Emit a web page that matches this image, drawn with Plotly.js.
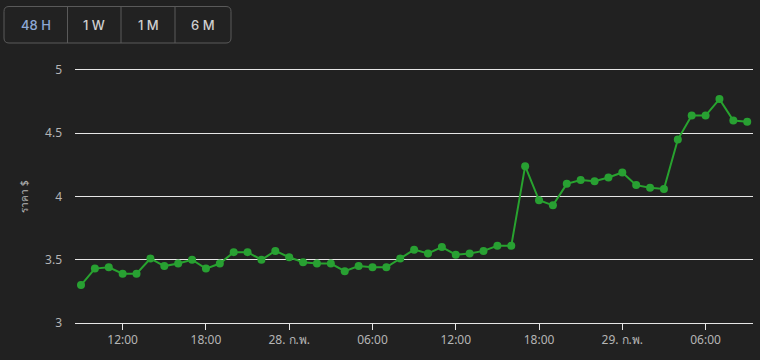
<!DOCTYPE html>
<html>
<head>
<meta charset="utf-8">
<script src="https://cdn.plot.ly/plotly-3.0.1.min.js"></script>
<style>
html,body{margin:0;padding:0;background:#212121;}
#chart{width:760px;height:360px;}
</style>
</head>
<body>
<div id="chart"></div>
<script>
// Hourly timestamps from 27 Feb 09:00 to 29 Feb 09:00 (2024)
const startTime = '2024-02-27T09:00:00';
const pointCount = 49;
const prices = [
  3.30, 3.43, 3.44, 3.39, 3.39, 3.51, 3.45, 3.47, 3.50, 3.43,
  3.47, 3.56, 3.56, 3.50, 3.57, 3.52, 3.48, 3.47, 3.47, 3.41,
  3.45, 3.44, 3.44, 3.51, 3.58, 3.55, 3.60, 3.54, 3.55, 3.57,
  3.61, 3.61, 4.24, 3.97, 3.93, 4.10, 4.13, 4.12, 4.15, 4.19,
  4.09, 4.07, 4.06, 4.45, 4.64, 4.64, 4.77, 4.60, 4.59
];
const tickDates = ['2024-02-27 12:00','2024-02-27 18:00','2024-02-28 00:00','2024-02-28 06:00','2024-02-28 12:00','2024-02-28 18:00','2024-02-29 00:00','2024-02-29 06:00'];
const tickLabels = ['12:00','18:00','28. ก.พ.','06:00','12:00','18:00','29. ก.พ.','06:00'];
const yTicks = [3, 3.5, 4, 4.5, 5];
const yTickLabels = ['3', '3.5', '4', '4.5', '5'];
const buttonLabels = ['48 H', '1 W', '1 M', '6 M'];
const yTitle = 'ราคา $';

// build hourly time axis
const times = [];
const t0 = new Date(startTime + 'Z').getTime();
for (let i = 0; i < pointCount; i++) {
  const d = new Date(t0 + i * 3600000);
  times.push(d.toISOString().slice(0, 19).replace('T', ' '));
}

const W = 760, H = 360;
const ml = 75, mr = 7, mt = 70, mb = 37;
const pw = W - ml - mr, ph = H - mt - mb;
const px = x => (x - ml) / pw;
const py = y => (H - mb - y) / ph;

// button group geometry (pixels)
const bx = [4, 67.5, 121, 175, 231];
const bTop = 6.5, bBot = 43;
const shapes = [];
const r = 5;
const x0 = px(bx[0]), x1 = px(bx[4]), y0 = py(bBot), y1 = py(bTop);
const rx = r / pw, ry = r / ph;
shapes.push({
  type: 'path', xref: 'paper', yref: 'paper',
  path: `M ${x0+rx} ${y1} L ${x1-rx} ${y1} Q ${x1} ${y1} ${x1} ${y1-ry} L ${x1} ${y0+ry} Q ${x1} ${y0} ${x1-rx} ${y0} L ${x0+rx} ${y0} Q ${x0} ${y0} ${x0} ${y0+ry} L ${x0} ${y1-ry} Q ${x0} ${y1} ${x0+rx} ${y1} Z`,
  line: {color: '#5a5a5a', width: 1}, fillcolor: '#222222'
});
for (let i = 1; i < 4; i++) {
  shapes.push({type: 'line', xref: 'paper', yref: 'paper', x0: px(bx[i]), x1: px(bx[i]), y0: py(bBot), y1: py(bTop), line: {color: '#5a5a5a', width: 1}});
}
const annotations = buttonLabels.map((lab, i) => ({
  xref: 'paper', yref: 'paper', x: px((bx[i] + bx[i+1]) / 2), y: py((bTop + bBot) / 2),
  text: lab.replace(' ', '&nbsp;'), showarrow: false, xanchor: 'center', yanchor: 'middle',
  font: {family: 'Inter, Roboto, sans-serif', size: 13, color: i === 0 ? '#8ea9d6' : '#cfcfcf', weight: 500}
}));

const trace = {
  x: times, y: prices, type: 'scatter', mode: 'lines+markers',
  line: {color: '#28a32f', width: 2},
  marker: {color: '#28a032', size: 8},
  hoverinfo: 'x+y'
};

const layout = {
  width: W, height: H,
  margin: {l: ml, r: mr, t: mt, b: mb},
  paper_bgcolor: '#212121', plot_bgcolor: '#212121',
  showlegend: false,
  font: {family: 'Noto Sans, DejaVu Sans, sans-serif', color: '#b5b5b5', size: 11},
  xaxis: {
    type: 'date',
    range: ['2024-02-27 08:34', '2024-02-29 09:25'],
    tickvals: tickDates, ticktext: tickLabels,
    showgrid: false, zeroline: false,
    showline: true, mirror: true, linecolor: '#e6e6e6', linewidth: 1,
    ticks: 'outside', ticklen: 6, tickcolor: '#e6e6e6', tickwidth: 1,
    tickfont: {size: 12, color: '#b5b5b5'}
  },
  yaxis: {
    range: [3, 5], tickvals: yTicks, ticktext: yTickLabels,
    showgrid: true, gridcolor: '#e6e6e6', gridwidth: 1,
    zeroline: false, showline: false, ticks: '',
    ticklabelstandoff: 12,
    tickfont: {size: 12, color: '#b5b5b5'},
    title: {text: yTitle, font: {size: 10, color: '#b5b5b5'}, standoff: 14}
  },
  shapes: shapes,
  annotations: annotations
};

Plotly.newPlot('chart', [trace], layout, {displayModeBar: false, staticPlot: true});
</script>
</body>
</html>
